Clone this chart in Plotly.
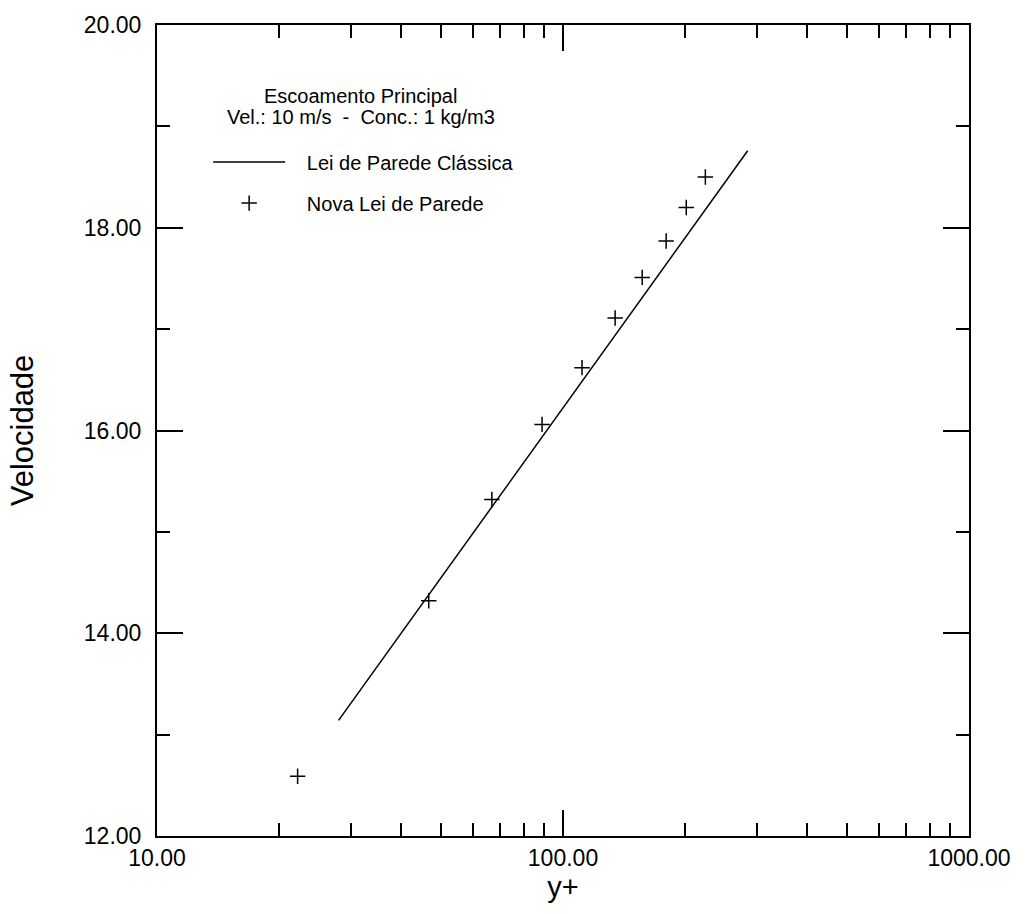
import plotly.graph_objects as go

# Data
yplus_new = [22.2, 46.7, 66.8, 88.8, 111.4, 134.4, 156.7, 179.5, 201.2, 224.2]
vel_new = [12.59, 14.32, 15.32, 16.06, 16.62, 17.11, 17.51, 17.87, 18.20, 18.50]

yplus_classic = [28.0, 285.0]
vel_classic = [13.14, 18.76]

x_major = [10, 100, 1000]
x_major_text = ["10.00", "100.00", "1000.00"]
x_minor = [20, 30, 40, 50, 60, 70, 80, 90, 200, 300, 400, 500, 600, 700, 800, 900]
y_major = [12, 14, 16, 18, 20]
y_major_text = ["12.00", "14.00", "16.00", "18.00", "20.00"]
y_minor = [13, 15, 17, 19]

title_lines = ["Escoamento Principal", "Vel.: 10 m/s  -  Conc.: 1 kg/m3"]

FONT = "Liberation Sans, Arial, sans-serif"
NB = "\u00a0"

fig = go.Figure()
fig.add_trace(go.Scatter(
    x=yplus_classic, y=vel_classic, mode="lines",
    line=dict(color="black", width=1.5),
    name=NB * 3 + "Lei de Parede Clássica", legendgroup="a",
))
fig.add_trace(go.Scatter(
    x=yplus_new, y=vel_new, mode="markers",
    marker=dict(symbol="cross-thin-open", size=11, line=dict(color="black", width=1.5), color="black"),
    name=NB * 3 + "Nova Lei de Parede", legendgroup="b",
))

axis_common = dict(
    showline=True, linecolor="black", linewidth=2, mirror="ticks",
    ticks="inside", ticklen=26, tickwidth=1.5, tickcolor="black",
    showgrid=False, zeroline=False,
    tickfont=dict(family=FONT, size=23, color="black"),
)

fig.update_layout(
    width=1026, height=914,
    margin=dict(l=157, r=57, t=22, b=78),
    paper_bgcolor="white", plot_bgcolor="white",
    font=dict(family=FONT, color="black"),
    xaxis=dict(
        type="log", range=[1, 3],
        tickvals=x_major, ticktext=x_major_text,
        minor=dict(tickvals=x_minor, ticks="inside", ticklen=13, tickwidth=1.5, tickcolor="black", showgrid=False),
        title=dict(text="y+", font=dict(family=FONT, size=29), standoff=4),
        **axis_common,
    ),
    yaxis=dict(
        range=[12, 20],
        tickvals=y_major, ticktext=y_major_text,
        ticklabelstandoff=9,
        minor=dict(tickvals=y_minor, ticks="inside", ticklen=13, tickwidth=1.5, tickcolor="black", showgrid=False),
        title=dict(text="Velocidade", font=dict(family=FONT, size=31), standoff=41),
        **axis_common,
    ),
    showlegend=True,
    legend=dict(
        x=0.063, y=0.855, xanchor="left", yanchor="top",
        bgcolor="rgba(0,0,0,0)",
        font=dict(family=FONT, size=20, color="black"),
        tracegroupgap=12,
        itemwidth=72,
        itemsizing="trace",
    ),
    annotations=[
        dict(text=title_lines[0], x=0.251, y=0.912, xref="paper", yref="paper",
             xanchor="center", yanchor="middle", showarrow=False,
             font=dict(family=FONT, size=20, color="black")),
        dict(text=title_lines[1], x=0.251, y=0.886, xref="paper", yref="paper",
             xanchor="center", yanchor="middle", showarrow=False,
             font=dict(family=FONT, size=20, color="black")),
    ],
)

fig.write_html("out.html")
